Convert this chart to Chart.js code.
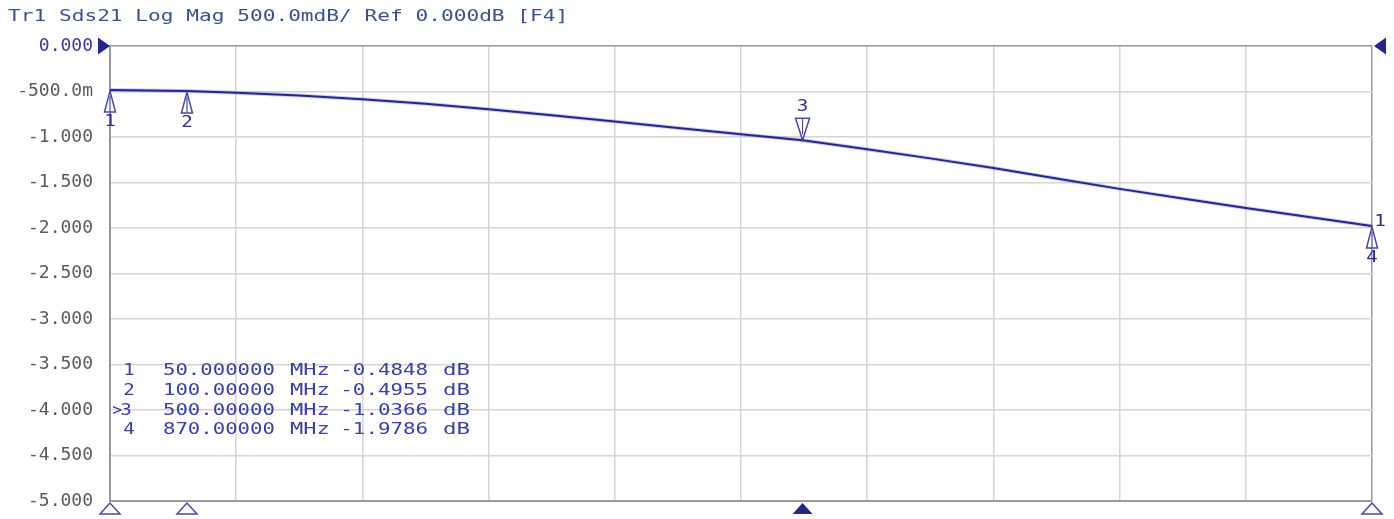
<!DOCTYPE html>
<html>
<head>
<meta charset="utf-8">
<script src="https://cdn.jsdelivr.net/npm/chart.js@4/dist/chart.umd.min.js"></script>
<style>
    html, body { margin: 0; padding: 0; background: #fff; }
    #wrap { width: 1394px; height: 519px; position: relative; }
</style>
</head>
<body>
<div id="wrap"><canvas id="chart"></canvas></div>
<script>
// Titre de la trace
const titre = 'Tr1 Sds21 Log Mag 500.0mdB/ Ref 0.000dB [F4]';

// Trace S21 (MHz, dB)
const traceFreq = [50, 100, 132, 173, 214, 255, 296, 337, 378, 419, 460, 500, 542, 583, 624, 665, 706, 747, 788, 829, 870];
const traceDb = [-0.4848, -0.4955, -0.515, -0.545, -0.585, -0.635, -0.695, -0.76, -0.83, -0.90, -0.97, -1.0366, -1.135, -1.235, -1.34, -1.455, -1.57, -1.675, -1.78, -1.88, -1.9786];

// Marqueurs
const markerNum = [1, 2, 3, 4];
const markerFreq = [50, 100, 500, 870];
const markerDb = [-0.4848, -0.4955, -1.0366, -1.9786];
const markerActif = 3;

// Axes
const freqMin = 50, freqMax = 870, freqStep = 82;
const dbMin = -5, dbMax = 0, dbStep = 0.5;

const BLEU = '#26268a';

// Texte étiré horizontalement (la police de l'analyseur est large)
function texteEtire(ctx, str, x, y, sx, align) {
    ctx.save();
    ctx.translate(x, y);
    ctx.scale(sx, 1);
    ctx.textAlign = align;
    ctx.fillText(str, 0, 0);
    ctx.restore();
}

// Triangle : pointe en (x, y)
function triangle(ctx, x, y, w, h, dir, plein) {
    ctx.beginPath();
    if (dir === 'up') {
        ctx.moveTo(x, y); ctx.lineTo(x - w / 2, y + h); ctx.lineTo(x + w / 2, y + h);
    } else if (dir === 'down') {
        ctx.moveTo(x, y); ctx.lineTo(x - w / 2, y - h); ctx.lineTo(x + w / 2, y - h);
    } else if (dir === 'right') {
        ctx.moveTo(x, y); ctx.lineTo(x - w, y - h / 2); ctx.lineTo(x - w, y + h / 2);
    } else {
        ctx.moveTo(x, y); ctx.lineTo(x + w, y - h / 2); ctx.lineTo(x + w, y + h / 2);
    }
    ctx.closePath();
    if (plein) {
        ctx.fillStyle = BLEU;
        ctx.fill();
    } else {
        ctx.fillStyle = '#fff';
        ctx.fill();
        ctx.strokeStyle = '#4a4aa0';
        ctx.lineWidth = 1.5;
        ctx.stroke();
    }
}

// Petit trait vertical au centre du marqueur
function tige(ctx, x, y0, y1) {
    ctx.beginPath();
    ctx.moveTo(x, y0);
    ctx.lineTo(x, y1);
    ctx.strokeStyle = '#4a4aa0';
    ctx.lineWidth = 1.2;
    ctx.stroke();
}

const decorations = {
    id: 'decorations',
    afterDraw(chart) {
        const ctx = chart.ctx;
        const xs = chart.scales.x, ys = chart.scales.y;
        const a = chart.chartArea;
        ctx.save();
        ctx.textBaseline = 'middle';

        // Titre
        ctx.font = '15px "DejaVu Sans Mono"';
        ctx.fillStyle = '#3a5189';
        texteEtire(ctx, titre, 8, 17, 1.41, 'left');

        // Repères de référence
        const yRef = ys.getPixelForValue(0);
        triangle(ctx, a.left, yRef, 12, 17, 'right', true);
        triangle(ctx, a.right + 2, yRef, 12, 17, 'left', true);

        // Marqueurs sur la trace et sous l'axe
        ctx.font = '16px "DejaVu Sans Mono"';
        markerNum.forEach((n, i) => {
            const px = xs.getPixelForValue(markerFreq[i]);
            const py = ys.getPixelForValue(markerDb[i]);
            if (n === markerActif) {
                triangle(ctx, px, py, 14, 22, 'down', false);
                tige(ctx, px, py - 22, py - 6);
                ctx.fillStyle = '#2d2d8a';
                texteEtire(ctx, String(n), px, py - 33, 1.2, 'center');
            } else {
                triangle(ctx, px, py + 1, 11, 21, 'up', false);
                tige(ctx, px, py + 6, py + 22);
                ctx.fillStyle = '#2d2d8a';
                texteEtire(ctx, String(n), px, py + 32, 1.2, 'center');
            }
            triangle(ctx, px, a.bottom + 2, 20, 11, 'up', n === markerActif);
        });
        // Indice de trace à droite
        ctx.fillStyle = '#2d2d8a';
        texteEtire(ctx, '1', a.right + 8, ys.getPixelForValue(markerDb[3]) - 4, 1.2, 'center');

        // Tableau des marqueurs
        ctx.font = '16px "DejaVu Sans Mono"';
        ctx.fillStyle = '#3a42a0';
        const lignes = [371, 391, 411, 430];
        markerNum.forEach((n, i) => {
            const y = lignes[i];
            if (n === markerActif) {
                texteEtire(ctx, '>', 117, y, 1.0, 'center');
                texteEtire(ctx, String(n), 126, y, 1.2, 'center');
            } else {
                texteEtire(ctx, String(n), 129, y, 1.2, 'center');
            }
            texteEtire(ctx, markerFreq[i].toPrecision(8), 163, y, 1.29, 'left');
            texteEtire(ctx, 'MHz', 290, y, 1.38, 'left');
            texteEtire(ctx, markerDb[i].toFixed(4), 428, y, 1.3, 'right');
            texteEtire(ctx, 'dB', 443, y, 1.4, 'left');
        });
        ctx.restore();
    }
};

const points = traceFreq.map((f, i) => ({ x: f, y: traceDb[i] }));

new Chart(document.getElementById('chart'), {
    type: 'line',
    data: {
        datasets: [
            {
                data: points,
                borderColor: BLEU,
                borderWidth: 2,
                pointRadius: 0,
                tension: 0,
            },
            {
                data: points,
                borderColor: 'rgba(110,110,220,0.35)',
                borderWidth: 4,
                pointRadius: 0,
                tension: 0,
            },
        ],
    },
    options: {
        responsive: true,
        maintainAspectRatio: false,
        animation: false,
        events: [],
        layout: { padding: { top: 46, right: 22, bottom: 18, left: 0 } },
        plugins: { legend: { display: false }, tooltip: { enabled: false } },
        scales: {
            x: {
                type: 'linear',
                min: freqMin,
                max: freqMax,
                afterFit: s => { s.height = 0; s.paddingLeft = 0; s.paddingRight = 0; },
                afterBuildTicks: s => {
                    s.ticks = [];
                    for (let v = freqMin; v <= freqMax; v += freqStep) s.ticks.push({ value: v });
                },
                ticks: { display: false },
                grid: {
                    drawTicks: false,
                    lineWidth: 1.5,
                    color: c => (c.tick && c.tick.value === freqMax ? '#999' : '#d4d4d4'),
                },
                border: { color: '#999', width: 2 },
            },
            y: {
                min: dbMin,
                max: dbMax,
                afterFit: s => { s.width = 110; s.paddingTop = 0; s.paddingBottom = 0; },
                ticks: {
                    stepSize: dbStep,
                    padding: 17,
                    color: c => (c.tick && c.tick.value === 0 ? '#3c3c8c' : '#5a5a5a'),
                    font: { family: '"DejaVu Sans Mono"', size: 18 },
                    callback: v => (v === -0.5 ? '-500.0m' : v.toFixed(3)),
                },
                grid: {
                    drawTicks: false,
                    lineWidth: 1.5,
                    color: c => (c.tick && c.tick.value === dbMax ? '#999' : '#d4d4d4'),
                },
                border: { color: '#999', width: 2 },
            },
        },
    },
    plugins: [decorations],
});
</script>
</body>
</html>
